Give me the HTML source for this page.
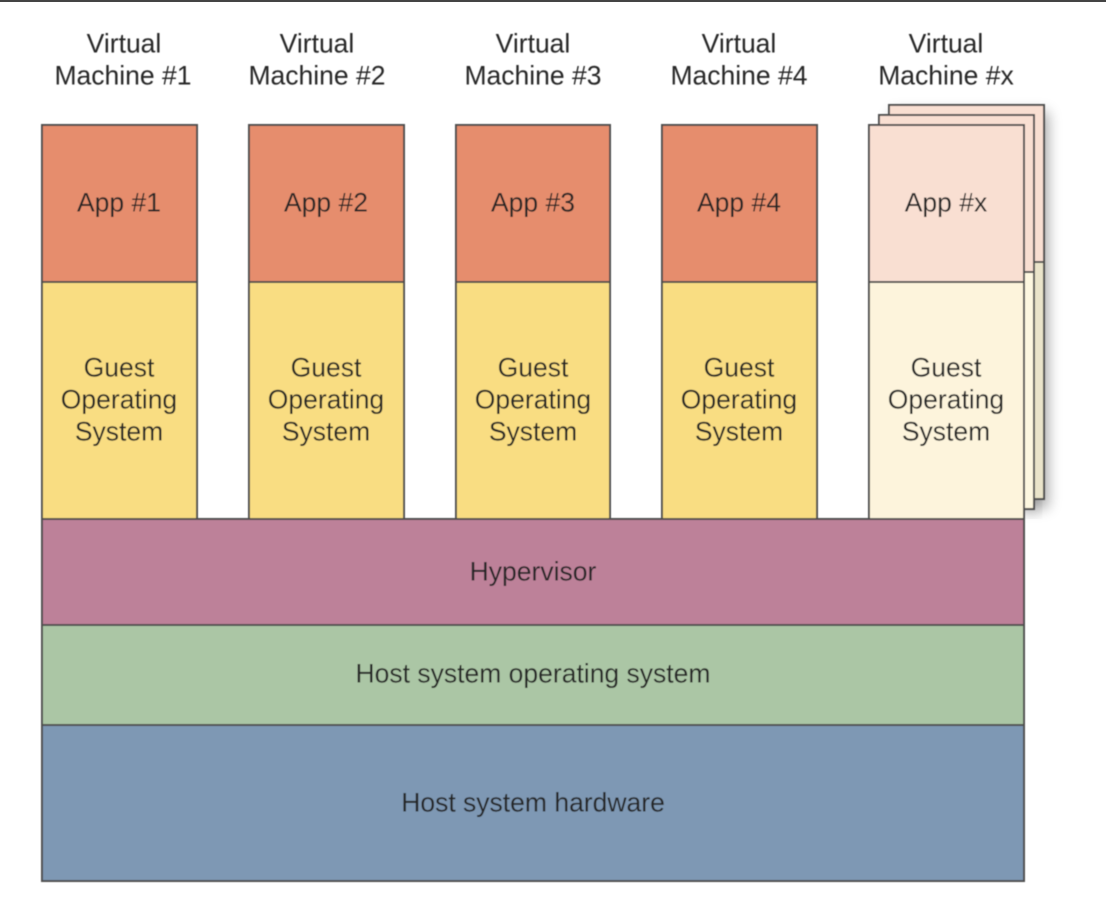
<!DOCTYPE html>
<html><head><meta charset="utf-8">
<style>
html,body{margin:0;padding:0;background:#fff;width:1106px;height:902px;overflow:hidden}
svg{display:block}
text{font-family:"Liberation Sans",sans-serif;font-size:26.5px;fill:#262626;text-anchor:middle}
rect{stroke:#4f4f4f;stroke-width:2}
</style></head><body>
<svg width="1106" height="902" viewBox="0 0 1106 902" xmlns="http://www.w3.org/2000/svg">
<defs>
<filter id="s" x="-20%" y="-20%" width="150%" height="130%"><feGaussianBlur stdDeviation="7"/></filter>
<filter id="b" x="-5%" y="-5%" width="110%" height="110%"><feGaussianBlur stdDeviation="0.6"/></filter>
</defs>
<rect x="0" y="0" width="1106" height="2" fill="#444" style="stroke:none"/>
<rect x="892" y="112" width="156" height="396" fill="#000" opacity="0.35" filter="url(#s)" style="stroke:none"/>
<rect x="1024" y="490" width="14" height="26" fill="#000" opacity="0.15" filter="url(#s)" style="stroke:none"/>
<g filter="url(#b)">
<rect x="889" y="105" width="155" height="157" fill="#f9dfd2"/>
<rect x="889" y="262" width="155" height="237" fill="#eae4ca"/>
<rect x="879" y="115" width="155" height="157" fill="#f9dfd2"/>
<rect x="879" y="272" width="155" height="237" fill="#fdf7e0"/>
<rect x="869" y="125" width="155" height="157" fill="#f9dfd2"/>
<rect x="869" y="282" width="155" height="237" fill="#fdf4dc"/>

<rect x="42" y="125" width="155" height="157" fill="#e68d6d"/>
<rect x="42" y="282" width="155" height="237" fill="#f9dd82"/>
<rect x="249" y="125" width="155" height="157" fill="#e68d6d"/>
<rect x="249" y="282" width="155" height="237" fill="#f9dd82"/>
<rect x="456" y="125" width="154" height="157" fill="#e68d6d"/>
<rect x="456" y="282" width="154" height="237" fill="#f9dd82"/>
<rect x="662" y="125" width="155" height="157" fill="#e68d6d"/>
<rect x="662" y="282" width="155" height="237" fill="#f9dd82"/>

<rect x="42" y="519" width="982" height="106" fill="#bd8199"/>
<rect x="42" y="625" width="982" height="100" fill="#abc6a5"/>
<rect x="42" y="725" width="982" height="156" fill="#7e98b4"/>

<text x="124" y="52.5">Virtual</text><text x="123" y="84.5">Machine #1</text>
<text x="317" y="52.5">Virtual</text><text x="317" y="84.5">Machine #2</text>
<text x="533" y="52.5">Virtual</text><text x="533" y="84.5">Machine #3</text>
<text x="739" y="52.5">Virtual</text><text x="739" y="84.5">Machine #4</text>
<text x="946" y="52.5">Virtual</text><text x="946" y="84.5">Machine #x</text>

<text x="119" y="211.5">App #1</text>
<text x="326" y="211.5">App #2</text>
<text x="533" y="211.5">App #3</text>
<text x="739" y="211.5">App #4</text>
<text x="946" y="211.5">App #x</text>

<text x="119" y="376.5">Guest</text><text x="119" y="408.5">Operating</text><text x="119" y="440.5">System</text>
<text x="326" y="376.5">Guest</text><text x="326" y="408.5">Operating</text><text x="326" y="440.5">System</text>
<text x="533" y="376.5">Guest</text><text x="533" y="408.5">Operating</text><text x="533" y="440.5">System</text>
<text x="739" y="376.5">Guest</text><text x="739" y="408.5">Operating</text><text x="739" y="440.5">System</text>
<text x="946" y="376.5">Guest</text><text x="946" y="408.5">Operating</text><text x="946" y="440.5">System</text>

<text x="533" y="580.5">Hypervisor</text>
<text x="533" y="682.5">Host system operating system</text>
<text x="533" y="811.5">Host system hardware</text>
</g>
</svg>
</body></html>
